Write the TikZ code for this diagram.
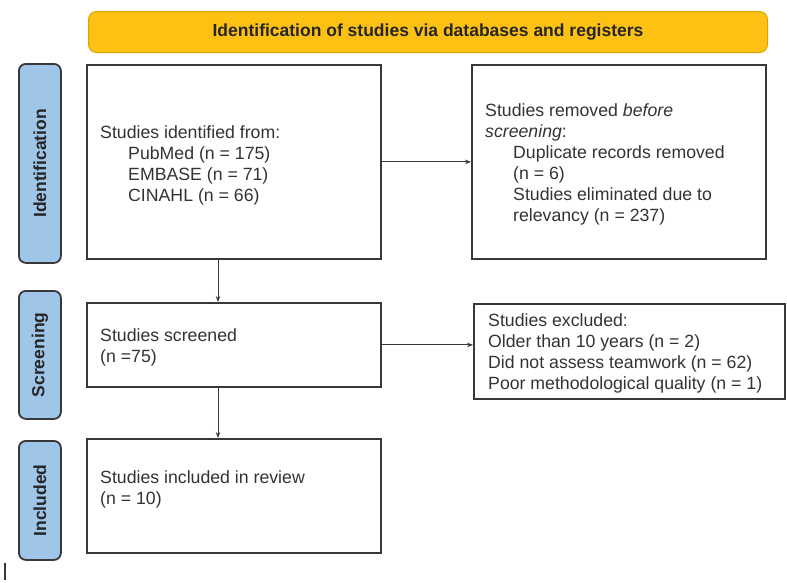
\documentclass[tikz,border=0pt]{standalone}
\usepackage{fontspec}
\setmainfont{Liberation Sans}
\usetikzlibrary{arrows.meta,calc}
\definecolor{txt}{HTML}{333333}
\definecolor{gold}{HTML}{FDC114}
\definecolor{goldedge}{HTML}{DDA400}
\definecolor{sideblue}{HTML}{9FC5E8}
\definecolor{edge}{HTML}{383838}
\begin{document}
\begin{tikzpicture}[x=1pt,y=1pt,
  box/.style={draw=edge, line width=1.8pt, anchor=north west, inner sep=0pt},
  side/.style={draw=edge, fill=sideblue, line width=1.8pt, rounded corners=7pt, anchor=north west, inner sep=0pt},
  banner/.style={draw=goldedge, fill=gold, line width=1pt, rounded corners=8pt, anchor=north west, inner sep=0pt},
  txtnode/.style={anchor=north west, inner sep=0pt, align=left, text=txt, font=\fontsize{17.7}{21}\selectfont},
  sidetext/.style={rotate=90, inner sep=0pt, text=black!85, font=\bfseries\fontsize{17.5}{21}\selectfont},
  bannertext/.style={inner sep=0pt, text=black!85, font=\bfseries\fontsize{17.5}{21}\selectfont},
  arr/.style={-{Stealth[length=6pt,width=4.5pt]}, line width=0.9pt, draw=edge}]
\useasboundingbox (0,0) rectangle (787,-582);
\fill[white] (0,0) rectangle (787,-582);
% banner
\node[banner, minimum width=679pt, minimum height=41pt] (ban) at (88,-11) {};
\node[bannertext] (bant) at (ban.center) {Identification of studies via databases and registers};
% side labels
\node[side, minimum width=42pt, minimum height=199pt] (s1) at (18,-63) {};
\node[sidetext] (s1t) at (s1.center) {Identification};
\node[side, minimum width=42pt, minimum height=128pt] (s2) at (18,-290) {};
\node[sidetext] (s2t) at (s2.center) {Screening};
\node[side, minimum width=42pt, minimum height=119pt] (s3) at (18,-440) {};
\node[sidetext] (s3t) at (s3.center) {Included};
% boxes
\node[box, minimum width=294pt, minimum height=194pt] (idb) at (86,-64) {};
\node[box, minimum width=294pt, minimum height=194pt] (rem) at (471,-64) {};
\node[box, minimum width=294pt, minimum height=84pt] (scr) at (86,-302) {};
\node[box, minimum width=311pt, minimum height=95pt] (exc) at (473,-303) {};
\node[box, minimum width=294pt, minimum height=114pt] (inc) at (86,-438) {};
% texts
\node[txtnode] (idbt) at (100,-125) {Studies identified from:\\
\hspace*{28pt}PubMed (n = 175)\\
\hspace*{28pt}EMBASE (n = 71)\\
\hspace*{28pt}CINAHL (n = 66)};
\node[txtnode] (remt) at (485,-103) {Studies removed \emph{before}\\
\emph{screening}:\\
\hspace*{28pt}Duplicate records removed\\
\hspace*{28pt}(n = 6)\\
\hspace*{28pt}Studies eliminated due to\\
\hspace*{28pt}relevancy (n = 237)};
\node[txtnode] (scrt) at (100,-328) {Studies screened\\(n =75)};
\node[txtnode] (exct) at (488,-313) {Studies excluded:\\
Older than 10 years (n = 2)\\
Did not assess teamwork (n = 62)\\
Poor methodological quality (n = 1)};
\node[txtnode] (inct) at (100,-470) {Studies included in review\\(n = 10)};
% connectors
\draw[arr] (idb.east) -- (rem.west);
\draw[arr] (scr.east) -- (scr.east -| exc.west);
\path (idb.south west) ++(132,0) coordinate (d1);
\draw[arr] (d1) -- (d1 |- scr.north);
\path (scr.south west) ++(132,0) coordinate (d2);
\draw[arr] (d2) -- (d2 |- inc.north);
% stray mark
\draw[line width=2pt, edge] (5,-563) -- (5,-580);
\end{tikzpicture}
\end{document}
